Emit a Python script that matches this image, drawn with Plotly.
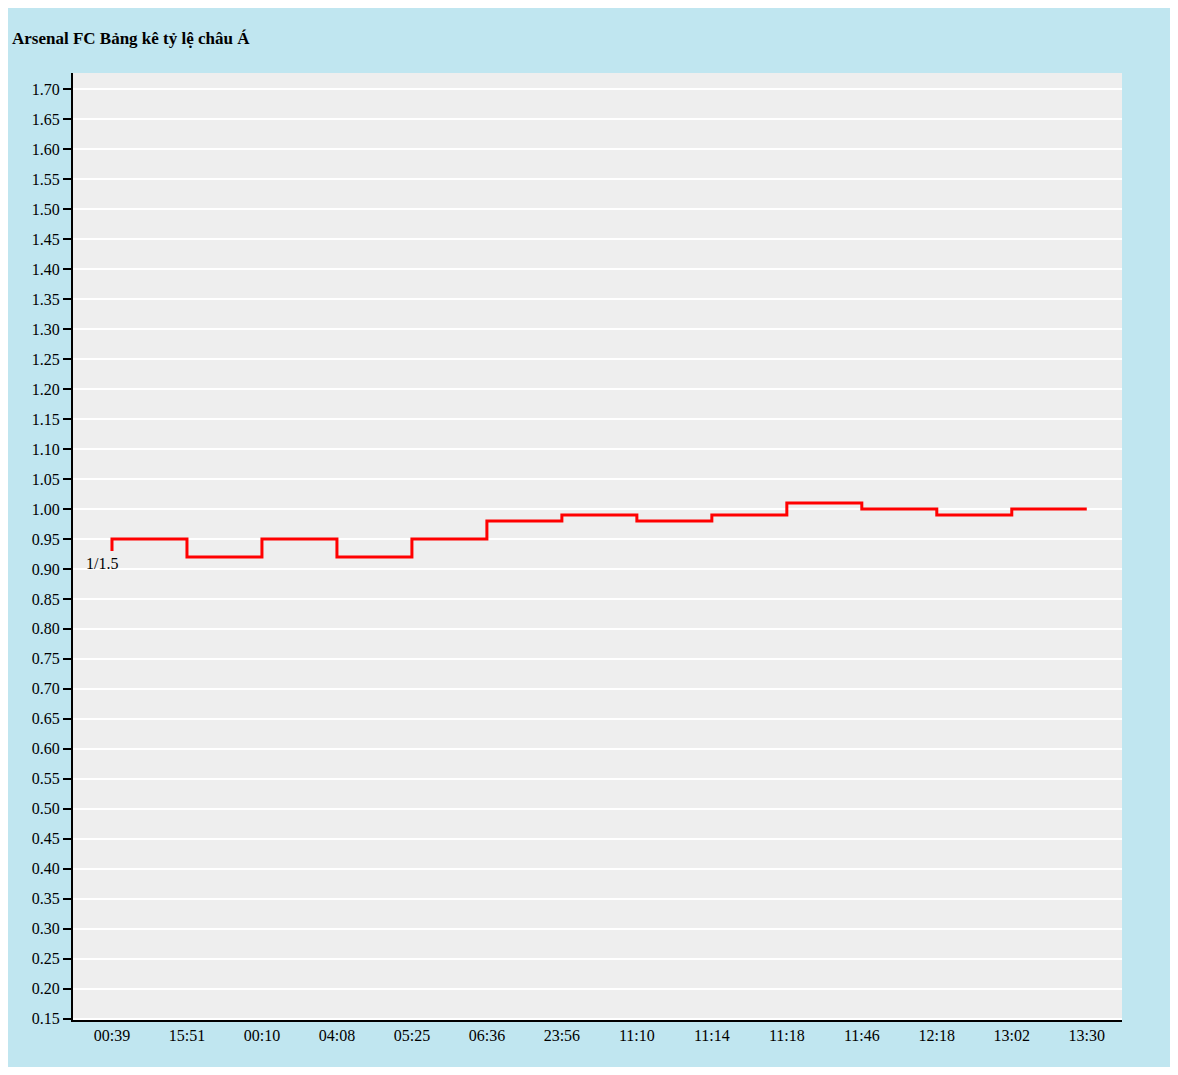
import plotly.graph_objects as go

times = ["00:39","15:51","00:10","04:08","05:25","06:36","23:56","11:10","11:14","11:18","11:46","12:18","13:02","13:30"]
values = [0.95,0.92,0.95,0.92,0.95,0.98,0.99,0.98,0.99,1.01,1.00,0.99,1.00,1.00]
start_value = 0.93
start_label = "1/1.5"
title = "Arsenal FC Bảng kê tỷ lệ châu Á"

xs = [0] + list(range(len(times)))
ys = [start_value] + values

fig = go.Figure(go.Scatter(x=xs, y=ys, mode="lines", line=dict(color="#ff0000", width=3, shape="hv"),
                           hoverinfo="skip"))
fig.add_annotation(x=0, y=start_value, text=start_label, showarrow=False, xanchor="right", yanchor="top",
                   xshift=8, yshift=-2, font=dict(size=16, color="#000"))

ticks = [round(0.15 + 0.05*i, 2) for i in range(32)]
fig.update_layout(
    width=1162, height=1059,
    paper_bgcolor="#c0e6f0", plot_bgcolor="#eeeeee",
    margin=dict(l=65, r=48, t=65, b=47),
    font=dict(family="Liberation Serif, Times New Roman, serif", size=16, color="#000"),
    title=dict(text="<b>"+title+"</b>", x=4/1162, xanchor="left", y=1-30/1059, yanchor="middle",
               font=dict(size=17)),
    showlegend=False,
    xaxis=dict(range=[-0.52, 13.47], tickvals=list(range(len(times))), ticktext=times,
               showgrid=False, showline=True, linecolor="#000", linewidth=2, ticks="", zeroline=False,
               fixedrange=True),
    yaxis=dict(range=[0.148, 1.7267], tickvals=ticks, ticktext=[f"{t:.2f}" for t in ticks],
               showgrid=True, gridcolor="#ffffff", gridwidth=2, showline=True, linecolor="#000",
               linewidth=2, ticks="outside", ticklen=8, tickcolor="#000", tickwidth=2,
               zeroline=False, fixedrange=True),
)
fig.write_html("out.html")
